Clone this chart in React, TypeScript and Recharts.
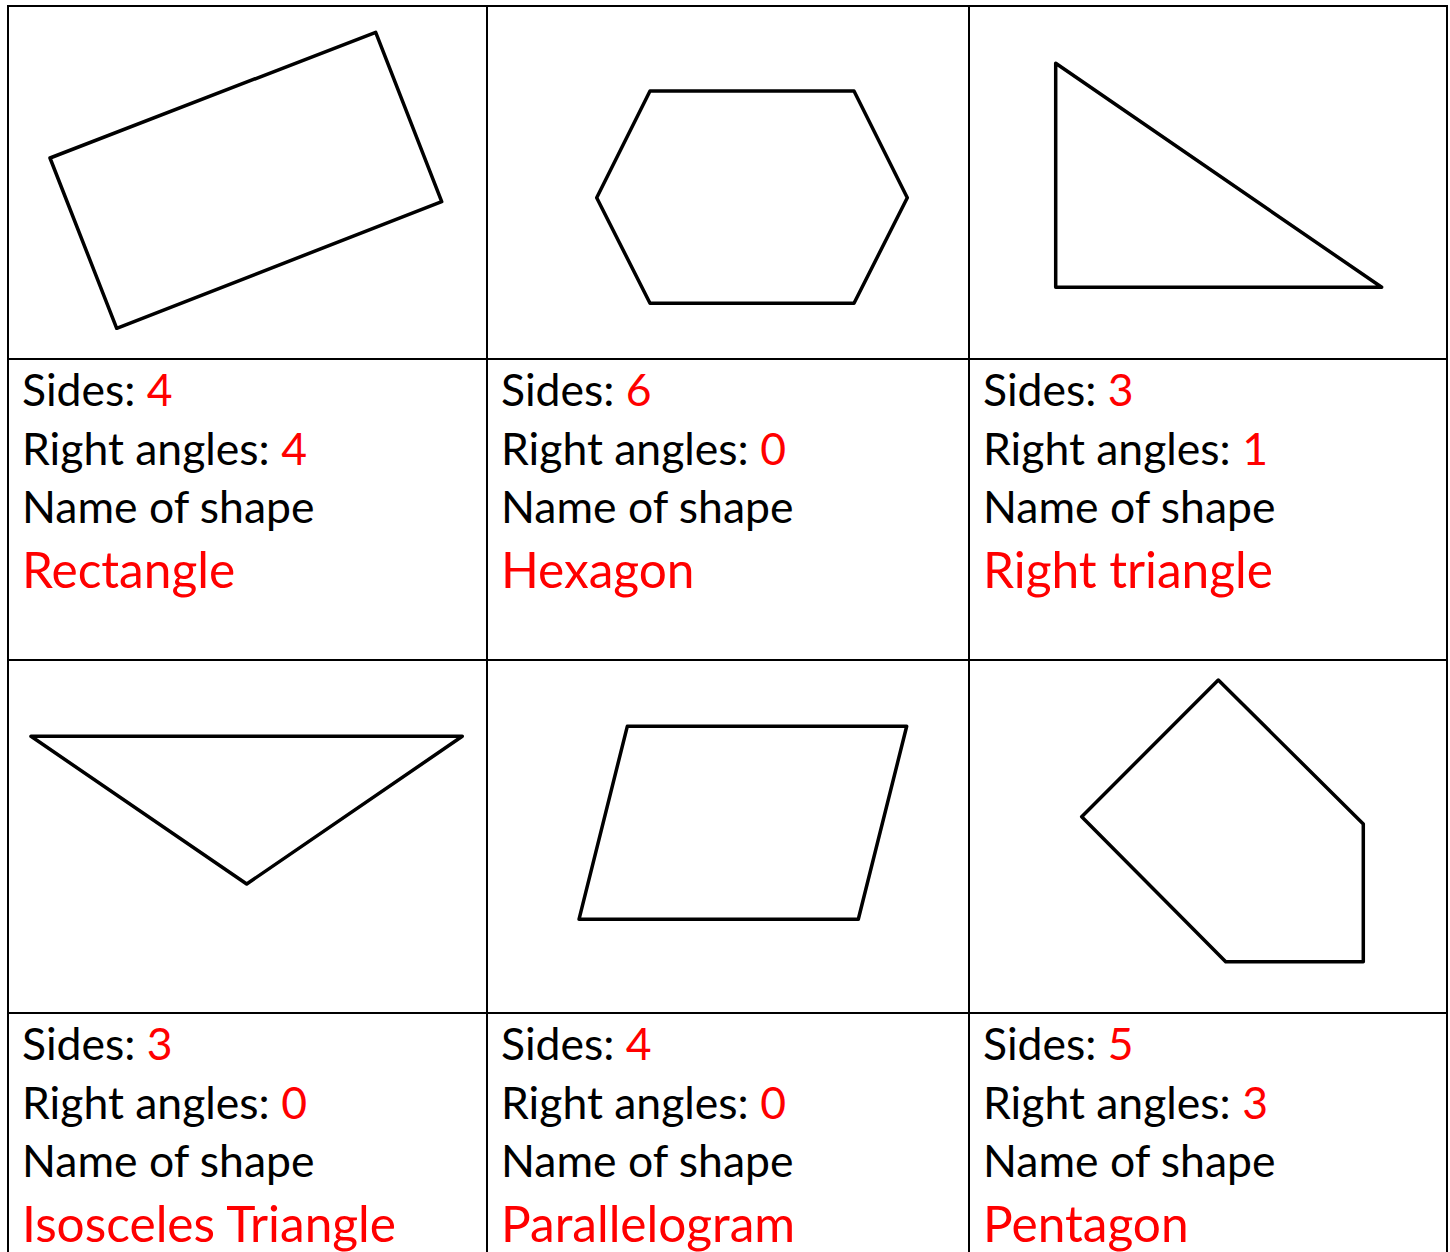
import React from "react";
import { LineChart, Line, XAxis, YAxis } from "recharts";

// table layout (px)
const colWidths = [477, 480, 476];
const shapeRowHeight = 351;
const textRowHeight = 299;

const shapeNames = [
  "Rectangle",
  "Hexagon",
  "Right triangle",
  "Isosceles Triangle",
  "Parallelogram",
  "Pentagon",
];
const sideCounts = [4, 6, 3, 3, 4, 5];
const rightAngleCounts = [4, 0, 1, 0, 0, 3];

// polygon vertices, in each cell's own units (x right, y down)
const rectangleVertices = [
  { x: 41, y: 151 },
  { x: 366.7, y: 25.3 },
  { x: 432.7, y: 194.7 },
  { x: 107.7, y: 321.3 },
];
const hexagonVertices = [
  { x: 162, y: 84 },
  { x: 366, y: 84 },
  { x: 419.3, y: 190.7 },
  { x: 366, y: 296.3 },
  { x: 162, y: 296.3 },
  { x: 108.7, y: 190.7 },
];
const rightTriangleVertices = [
  { x: 85.7, y: 56.3 },
  { x: 85.7, y: 280.3 },
  { x: 411.7, y: 280.3 },
];
const isoscelesVertices = [
  { x: 22, y: 75.3 },
  { x: 453.3, y: 75.3 },
  { x: 237.7, y: 223 },
];
const parallelogramVertices = [
  { x: 139.3, y: 65.3 },
  { x: 418.7, y: 65.3 },
  { x: 370.3, y: 258.3 },
  { x: 91, y: 258.3 },
];
const pentagonVertices = [
  { x: 248.3, y: 19 },
  { x: 393.3, y: 163 },
  { x: 393.3, y: 300.7 },
  { x: 255.7, y: 300.7 },
  { x: 111.7, y: 155.7 },
];

const shapes = [
  rectangleVertices,
  hexagonVertices,
  rightTriangleVertices,
  isoscelesVertices,
  parallelogramVertices,
  pentagonVertices,
];

const RED = "#ff0000";
const FONT = "Lato, 'Open Sans', sans-serif";

const ShapeCell = ({ vertices, width }: { vertices: { x: number; y: number }[]; width: number }) => {
  // close the outline (repeat first two points so the first corner gets a join)
  const data = [...vertices, vertices[0], vertices[1]];
  return (
    <div style={{ background: "#fff", width, height: shapeRowHeight }}>
      <LineChart
        width={width}
        height={shapeRowHeight}
        data={data}
        margin={{ top: 0, right: 0, bottom: 0, left: 0 }}
      >
        <XAxis type="number" dataKey="x" domain={[0, width]} allowDataOverflow hide />
        <YAxis type="number" dataKey="y" domain={[0, shapeRowHeight]} reversed allowDataOverflow hide />
        <Line
          type="linear"
          dataKey="y"
          stroke="#000"
          strokeWidth={3.5}
          strokeLinejoin="round"
          dot={false}
          activeDot={false}
          isAnimationActive={false}
        />
      </LineChart>
    </div>
  );
};

const TextCell = ({ i }: { i: number }) => {
  const line: React.CSSProperties = { fontSize: 44.5, lineHeight: "58.5px", whiteSpace: "nowrap" };
  return (
    <div
      style={{
        background: "#fff",
        height: textRowHeight,
        paddingLeft: 13,
        fontFamily: FONT,
        color: "#000",
        boxSizing: "border-box",
      }}
    >
      <div style={line}>
        Sides: <span style={{ color: RED }}>{sideCounts[i]}</span>
      </div>
      <div style={line}>
        Right angles: <span style={{ color: RED }}>{rightAngleCounts[i]}</span>
      </div>
      <div style={line}>Name of shape</div>
      <div style={{ fontSize: 49.6, lineHeight: "66px", color: RED, whiteSpace: "nowrap" }}>
        {shapeNames[i]}
      </div>
    </div>
  );
};

export default function App() {
  const rows = [0, 1];
  return (
    <div
      style={{
        position: "absolute",
        left: 0,
        top: 0,
        width: 1450,
        height: 1252,
        overflow: "hidden",
        background: "#fff",
      }}
    >
      <div
        style={{
          position: "absolute",
          left: 7,
          top: 5,
          display: "grid",
          gridTemplateColumns: colWidths.map((w) => `${w}px`).join(" "),
          gridTemplateRows: `${shapeRowHeight}px ${textRowHeight}px ${shapeRowHeight}px ${textRowHeight}px`,
          gap: 2,
          padding: 2,
          background: "#000",
        }}
      >
        {rows.map((r) => (
          <React.Fragment key={r}>
            {colWidths.map((w, c) => (
              <ShapeCell key={`s${c}`} vertices={shapes[r * 3 + c]} width={w} />
            ))}
            {colWidths.map((w, c) => (
              <TextCell key={`t${c}`} i={r * 3 + c} />
            ))}
          </React.Fragment>
        ))}
      </div>
    </div>
  );
}
